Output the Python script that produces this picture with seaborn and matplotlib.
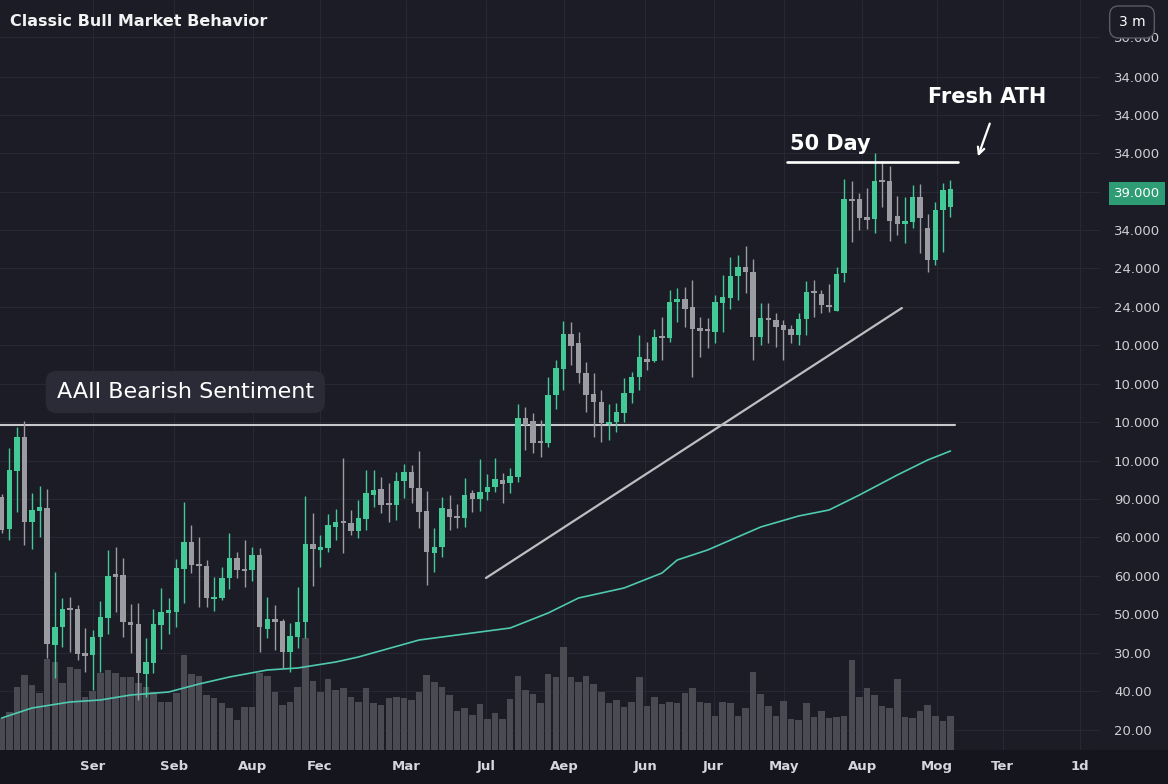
import numpy as np
import pandas as pd
import matplotlib
matplotlib.use("Agg")
import matplotlib.pyplot as plt
import seaborn as sns

# --- data (price in chart units) ---
opens = [253, 221, 279, 313, 228, 239, 242, 105, 123, 142,
         141, 97, 95, 113, 132, 176, 175, 128, 126, 76,
         87, 125, 137, 138, 181, 208, 186, 184, 151, 152,
         172, 192, 181, 180, 195, 121, 131, 129, 98, 113,
         128, 206, 200, 202, 223, 229, 227, 219, 231, 255,
         261, 247, 245, 269, 278, 262, 239, 197, 203, 241,
         233, 232, 257, 251, 258, 263, 270, 267, 273, 332,
         329, 308, 307, 355, 381, 416, 407, 377, 356, 348,
         326, 328, 337, 357, 373, 391, 389, 414, 412, 448,
         451, 443, 422, 421, 418, 447, 452, 474, 483, 478,
         413, 432, 430, 425, 421, 415, 431, 458, 456, 445,
         439, 477, 551, 551, 533, 531, 570, 569, 534, 526,
         528, 553, 522, 490, 540, 543]
closes = [220, 280, 313, 228, 240, 243, 106, 123, 141, 140,
          96, 94, 113, 133, 174, 173, 128, 125, 77, 88,
          126, 138, 140, 182, 208, 185, 184, 152, 153, 172,
          192, 180, 179, 195, 123, 131, 128, 98, 114, 128,
          206, 201, 203, 225, 228, 227, 219, 232, 257, 260,
          245, 245, 269, 278, 262, 238, 198, 203, 242, 233,
          232, 255, 251, 258, 263, 271, 266, 274, 332, 325,
          307, 307, 355, 382, 416, 404, 377, 355, 348, 327,
          328, 338, 357, 373, 393, 388, 413, 412, 448, 451,
          441, 421, 419, 419, 448, 453, 474, 483, 478, 413,
          432, 430, 423, 420, 415, 431, 458, 457, 445, 443,
          476, 551, 549, 532, 530, 569, 568, 529, 526, 529,
          553, 532, 490, 540, 560, 561]
highs = [256, 302, 323, 329, 257, 264, 261, 178, 152, 153,
         145, 122, 120, 149, 200, 203, 192, 146, 147, 112,
         141, 162, 152, 191, 248, 225, 213, 190, 173, 183,
         217, 198, 210, 203, 202, 153, 145, 131, 127, 163,
         254, 237, 215, 236, 241, 292, 240, 250, 280, 280,
         273, 267, 278, 286, 285, 299, 259, 222, 253, 255,
         246, 272, 260, 291, 276, 292, 277, 282, 346, 343,
         337, 330, 373, 390, 429, 428, 418, 388, 377, 360,
         346, 347, 372, 378, 415, 408, 421, 433, 460, 462,
         463, 470, 433, 432, 455, 475, 493, 495, 504, 491,
         447, 447, 437, 430, 425, 437, 469, 470, 460, 466,
         483, 571, 569, 557, 562, 597, 589, 584, 554, 553,
         565, 566, 536, 548, 567, 570]
lows = [217, 210, 238, 205, 201, 213, 92, 72, 103, 98,
        90, 78, 60, 78, 116, 138, 113, 97, 50, 53,
        77, 101, 116, 123, 147, 177, 143, 143, 139, 150,
        161, 172, 163, 169, 98, 112, 100, 82, 78, 102,
        112, 164, 183, 198, 210, 197, 215, 212, 220, 243,
        237, 228, 230, 252, 247, 222, 165, 178, 193, 220,
        222, 223, 238, 239, 250, 258, 247, 257, 268, 300,
        297, 293, 303, 341, 360, 385, 367, 338, 313, 308,
        310, 318, 328, 347, 360, 380, 388, 390, 408, 428,
        423, 373, 393, 402, 407, 418, 441, 450, 457, 390,
        405, 407, 403, 390, 407, 405, 415, 433, 437, 438,
        439, 468, 508, 520, 521, 517, 543, 509, 515, 507,
        522, 497, 478, 485, 498, 533]
volume = [32, 38, 63, 75, 65, 57, 91, 88, 67, 83,
          81, 53, 59, 77, 80, 77, 73, 73, 67, 63,
          58, 48, 48, 57, 95, 76, 74, 55, 52, 47,
          42, 30, 43, 43, 77, 74, 58, 45, 48, 63,
          112, 69, 58, 71, 60, 62, 53, 48, 62, 47,
          45, 52, 53, 52, 50, 58, 75, 68, 63, 55,
          39, 42, 35, 46, 31, 37, 31, 51, 74, 60,
          56, 47, 76, 73, 103, 73, 68, 74, 66, 58,
          47, 50, 43, 48, 73, 44, 53, 46, 48, 47,
          57, 62, 48, 47, 34, 48, 47, 34, 42, 78,
          56, 44, 34, 49, 31, 30, 47, 33, 39, 32,
          33, 34, 90, 53, 62, 55, 44, 42, 71, 33,
          32, 39, 45, 34, 29, 34]

# moving average line, sampled points (candle index, value)
ma_idx = [0, 4, 9, 13, 17, 22, 26, 30, 35, 39, 44, 47, 55, 60, 67, 72, 76,
          82, 87, 89, 93, 100, 105, 109, 113, 118, 122, 125]
ma_val = [32, 42, 48, 50, 55, 58, 66, 73, 80, 82, 88, 93, 110, 115, 122, 137,
          152, 162, 177, 190, 200, 223, 234, 240, 255, 275, 290, 299]

y_tick_vals = [713, 673, 635, 597, 558, 520, 482, 443, 405, 366, 328, 289,
               251, 213, 174, 136, 97, 59, 20]
y_tick_labels = ["30.000", "34.000", "34.000", "34.000", "39.000", "34.000",
                 "24.000", "24.000", "10.000", "10.000", "10.000", "10.000",
                 "90.000", "60.000", "60.000", "50.000", "30.00", "40.00", "20.00"]
x_tick_vals = [12.0, 22.7, 33.1, 41.9, 53.3, 63.8, 74.1, 84.8, 93.8, 103.1,
               113.4, 123.2, 131.9, 142.1]
x_tick_labels = ["Ser", "Seb", "Aup", "Fec", "Mar", "Jul", "Aep", "Jun", "Jur",
                 "May", "Aup", "Mog", "Ter", "1d"]

BG = "#1b1c25"
GREEN = "#43c996"
GREY = "#9b9ba2"
GRID = "#272833"

sns.set_theme(style="dark")
plt.rcParams["font.family"] = ["DejaVu Sans"]

n = len(opens)
idx = np.arange(n)
o = np.array(opens)
c = np.array(closes)
colors = [GREEN if cc >= oo else GREY for oo, cc in zip(o, c)]

fig = plt.figure(figsize=(11.68, 7.84), dpi=100)
fig.patch.set_facecolor(BG)
fig.add_artist(plt.Rectangle((0, 0), 1, 34 / 784, transform=fig.transFigure,
                             color="#15161d", zorder=-1))

# base axes: grid + volume
base = fig.add_axes([0, 34 / 784, 1100 / 1168, 750 / 784])
base.set_facecolor(BG)
vol_df = pd.DataFrame({"i": idx, "vol": volume})
sns.barplot(data=vol_df, x="i", y="vol", ax=base, color="#4a4a52",
            saturation=1, width=0.86, errorbar=None, edgecolor="none",
            linewidth=0, zorder=1)
base.set_ylim(0, 750)
base.set_xlim(-0.22, 144.7)
base.set_xticks(x_tick_vals)
base.set_xticklabels(x_tick_labels)
base.set_yticks(y_tick_vals)
base.set_yticklabels([])
base.set_xlabel("")
base.set_ylabel("")
base.grid(True, color=GRID, lw=0.8, zorder=0)
base.set_axisbelow(True)
base.tick_params(axis="x", colors="#d6d6dc", labelsize=9.5, pad=7, length=0)
base.tick_params(axis="y", length=0)
for lab in base.get_xticklabels():
    lab.set_fontweight("bold")
for s in base.spines.values():
    s.set_visible(False)

# moving average
sns.lineplot(x=ma_idx, y=ma_val, ax=base, color="#4fc9b0", lw=1.2, zorder=3)
base.set_xlim(-0.22, 144.7)
base.set_xlabel("")
base.set_ylabel("")

# candle axes on top
ax = base.twinx()
ax.patch.set_visible(False)
ax.set_ylim(0, 750)
ax.set_xlim(-0.22, 144.7)
ax.vlines(idx, lows, highs, colors=colors, lw=1.0, zorder=3)
body_h = np.maximum(np.abs(c - o), 2)
ax.bar(idx, body_h, bottom=np.minimum(o, c), width=0.72, color=colors,
       zorder=4, linewidth=0)

ax.set_yticks(y_tick_vals)
ax.set_yticklabels(y_tick_labels)
ax.tick_params(axis="y", colors="#cfcfd6", labelsize=9.5, pad=10, length=0)
ax.grid(False)
for s in ax.spines.values():
    s.set_visible(False)
lab = ax.get_yticklabels()[4]
lab.set_color("white")
lab.set_bbox(dict(boxstyle="square,pad=0.35", fc="#2e9c74", ec="none"))

# annotation lines
ax.plot([-0.22, 125.6], [325, 325], color="#c9c9cd", lw=1.5, zorder=2)
ax.plot([63.8, 118.6], [172, 442], color="#bdbdc2", lw=1.6, zorder=2)
ax.plot([103.5, 126.0], [588, 588], color="white", lw=1.9, zorder=5)

ax.text(103.9, 596, "50 Day", color="white", fontsize=15, fontweight="bold",
        ha="left", va="bottom", zorder=6)
ax.text(129.8, 653, "Fresh ATH", color="white", fontsize=15, fontweight="bold",
        ha="center", va="center", zorder=6)
ax.annotate("", xy=(128.5, 591), xytext=(130.3, 629),
            arrowprops=dict(arrowstyle="->", color="white", lw=1.6))
ax.text(24.2, 358, "AAII Bearish Sentiment", color="white", fontsize=16,
        ha="center", va="center", zorder=6,
        bbox=dict(boxstyle="round,pad=0.5", fc="#2a2b36", ec="none"))

fig.text(10 / 1168, 1 - 22 / 784, "Classic Bull Market Behavior", color="#f2f2f2",
         fontsize=11.5, fontweight="bold", ha="left", va="center")
fig.text(1132 / 1168, 1 - 22 / 784, "3 m", color="white", fontsize=10,
         ha="center", va="center",
         bbox=dict(boxstyle="round,pad=0.65", fc=BG, ec="#5a5b66", lw=1))

fig.savefig("out.png", dpi=100, facecolor=BG)
